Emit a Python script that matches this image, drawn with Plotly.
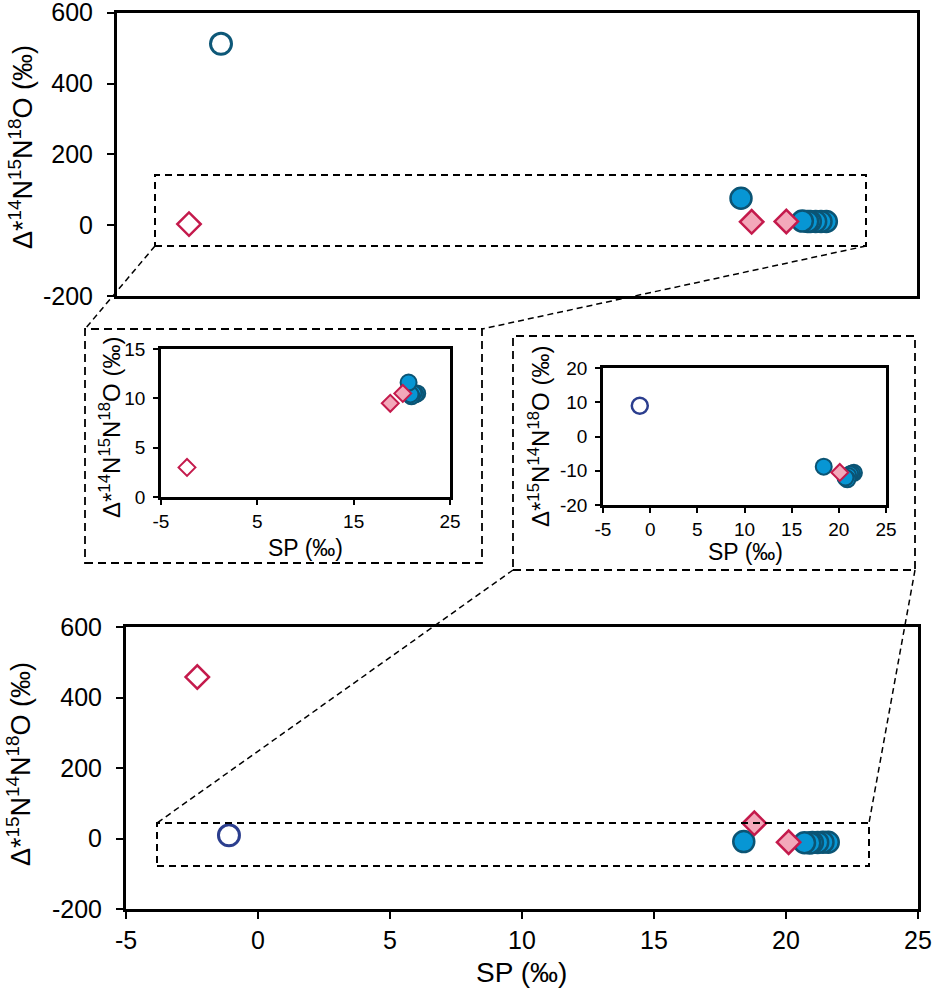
import plotly.graph_objects as go

# ---------------- data ----------------
# open circle sample
sp_open_circle = [-1.1]
d14_open_circle = [512]
d15_open_circle = [9.0]

# open diamond sample
sp_open_diamond = [-2.3]
d14_open_diamond = [3.0]
d15_open_diamond = [458]

# filled circles (ordered right -> left so the left ones sit on top)
sp_fill_circle = [21.6, 21.4, 21.2, 21.0, 20.9, 20.7, 18.4]
d14_fill_circle = [10.5, 10.4, 10.5, 10.2, 10.4, 11.6, 76]
d15_fill_circle = [-10.6, -10.8, -11.0, -11.5, -12.5, -12.0, -8.8]

# filled diamonds
sp_fill_diamond = [18.8, 20.1]
d14_fill_diamond = [9.5, 10.5]
d15_fill_diamond = [43, -10.5]

# tick labels
big_y_vals = [-200, 0, 200, 400, 600]
big_y_text = ["-200", "0", "200", "400", "600"]
big_x_vals = [-5, 0, 5, 10, 15, 20, 25]
big_x_text = ["-5", "0", "5", "10", "15", "20", "25"]
ins1_x_vals = [-5, 5, 15, 25]
ins1_x_text = ["-5", "5", "15", "25"]
ins1_y_vals = [0, 5, 10, 15]
ins1_y_text = ["0", "5", "10", "15"]
ins2_x_vals = [-5, 0, 5, 10, 15, 20, 25]
ins2_x_text = ["-5", "0", "5", "10", "15", "20", "25"]
ins2_y_vals = [-20, -10, 0, 10, 20]
ins2_y_text = ["-20", "-10", "0", "10", "20"]

title_14 = "Δ*<sup>14</sup>N<sup>15</sup>N<sup>18</sup>O (‰)"
title_15 = "Δ*<sup>15</sup>N<sup>14</sup>N<sup>18</sup>O (‰)"
title_sp = "SP (‰)"

# ---------------- styling ----------------
W, H = 934, 989
FONT = "Liberation Sans, Arial, Helvetica, sans-serif"
BLUE_FILL = "#0796d4"
BLUE_LINE = "#0b5474"
TEAL_OPEN = "#0e5878"
NAVY_OPEN = "#2b3e8e"
CRIMSON = "#c41a4c"
PINK = "#f3a8ba"


def px(x):
    return x / W


def py(y):
    return 1 - y / H


def dom_x(a, b):
    return [px(a), px(b)]


def dom_y(top, bottom):
    return [py(bottom), py(top)]


fig = go.Figure()


def add_panel(xa, ya, ydata, big, open_circle_color):
    d_oc, d_od, d_fc, d_fd = ydata
    cs = 21 if big else 16
    ds = 18 if big else 13
    lw = 2.5 if big else 2
    fig.add_trace(go.Scatter(
        x=sp_open_circle, y=d_oc, mode="markers", xaxis=xa, yaxis=ya,
        marker=dict(symbol="circle", size=cs, color="rgba(0,0,0,0)",
                    line=dict(color=open_circle_color, width=3 if big else 2.5)),
        showlegend=False, hoverinfo="skip"))
    fig.add_trace(go.Scatter(
        x=sp_open_diamond, y=d_od, mode="markers", xaxis=xa, yaxis=ya,
        marker=dict(symbol="diamond", size=ds, color="rgba(0,0,0,0)",
                    line=dict(color=CRIMSON, width=lw)),
        showlegend=False, hoverinfo="skip"))
    fig.add_trace(go.Scatter(
        x=sp_fill_circle, y=d_fc, mode="markers", xaxis=xa, yaxis=ya,
        marker=dict(symbol="circle", size=cs, color=BLUE_FILL,
                    line=dict(color=BLUE_LINE, width=lw)),
        showlegend=False, hoverinfo="skip"))
    fig.add_trace(go.Scatter(
        x=sp_fill_diamond, y=d_fd, mode="markers", xaxis=xa, yaxis=ya,
        marker=dict(symbol="diamond", size=ds, color=PINK,
                    line=dict(color=CRIMSON, width=lw)),
        showlegend=False, hoverinfo="skip"))


add_panel("x", "y", (d14_open_circle, d14_open_diamond, d14_fill_circle, d14_fill_diamond), True, TEAL_OPEN)
add_panel("x2", "y2", (d14_open_circle, d14_open_diamond, d14_fill_circle, d14_fill_diamond), False, TEAL_OPEN)
add_panel("x3", "y3", (d15_open_circle, d15_open_diamond, d15_fill_circle, d15_fill_diamond), False, NAVY_OPEN)
add_panel("x4", "y4", (d15_open_circle, d15_open_diamond, d15_fill_circle, d15_fill_diamond), True, NAVY_OPEN)


def ax(domain, rng, anchor, vals=None, text=None, big=True, show=True, standoff=0):
    d = dict(domain=domain, range=rng, anchor=anchor, showgrid=False, zeroline=False,
             showline=True, linecolor="black", linewidth=3 if big else 2.5, mirror=True,
             automargin=False, fixedrange=True)
    if show:
        d.update(tickmode="array", tickvals=vals, ticktext=text, ticks="outside",
                 ticklen=7 if big else 5, tickwidth=2, tickcolor="black",
                 ticklabeloverflow="allow", ticklabelstandoff=standoff,
                 tickfont=dict(family=FONT, size=25 if big else 19, color="black"))
    else:
        d.update(showticklabels=False, ticks="")
    return d


fig.update_layout(
    width=W, height=H, margin=dict(l=0, r=0, t=0, b=0),
    paper_bgcolor="white", plot_bgcolor="white",
    font=dict(family=FONT, color="black"),
    xaxis=ax(dom_x(117, 917), [-5, 25], "y", show=False),
    yaxis=ax(dom_y(12.7, 296), [-200, 600], "x", big_y_vals, big_y_text, standoff=9),
    xaxis2=ax(dom_x(161, 450), [-5, 25], "y2", ins1_x_vals, ins1_x_text, big=False),
    yaxis2=ax(dom_y(349, 497), [0, 15], "x2", ins1_y_vals, ins1_y_text, big=False, standoff=4),
    xaxis3=ax(dom_x(603, 886), [-5, 25], "y3", ins2_x_vals, ins2_x_text, big=False),
    yaxis3=ax(dom_y(368, 505), [-20, 20], "x3", ins2_y_vals, ins2_y_text, big=False, standoff=4),
    xaxis4=ax(dom_x(126, 918), [-5, 25], "y4", big_x_vals, big_x_text),
    yaxis4=ax(dom_y(627, 909), [-200, 600], "x4", big_y_vals, big_y_text, standoff=9),
)

# ---------------- decorative dashed boxes and connectors ----------------
shapes = []


def rect(x0, y0, x1, y1, dash="7px,5px", w=2):
    shapes.append(dict(type="rect", xref="paper", yref="paper",
                       x0=px(x0), x1=px(x1), y0=py(y1), y1=py(y0),
                       line=dict(color="black", width=w, dash=dash), fillcolor="rgba(0,0,0,0)",
                       layer="above"))


def line(x0, y0, x1, y1, dash="6px,4px", w=1.5):
    shapes.append(dict(type="line", xref="paper", yref="paper",
                       x0=px(x0), x1=px(x1), y0=py(y0), y1=py(y1),
                       line=dict(color="black", width=w, dash=dash), layer="above"))


rect(155, 175, 866, 246)          # zoom box in top panel
rect(157, 823, 869, 866)          # zoom box in bottom panel
rect(85, 329, 482, 563, dash="8px,5px", w=1.8)   # left inset frame
rect(513, 336, 915, 570, dash="8px,5px", w=1.8)  # right inset frame
line(155, 246, 85, 329)
line(866, 246, 482, 329)
line(513, 570, 157, 823)
line(915, 570, 869, 823)
fig.update_layout(shapes=shapes)

# ---------------- axis titles ----------------
ann = []


def title(text, x, y, size, angle=0):
    ann.append(dict(text=text, x=px(x), y=py(y), xref="paper", yref="paper",
                    showarrow=False, textangle=angle, xanchor="center", yanchor="middle",
                    font=dict(family=FONT, size=size, color="black")))


title(title_14, 21, 147, 27, -90)
title(title_15, 19, 764, 27, -90)
title(title_14, 110, 428, 24, -90)
title(title_15, 539, 437, 24, -90)
title(title_sp, 305, 548, 23)
title(title_sp, 745, 552, 23)
title(title_sp, 521, 972, 28)
fig.update_layout(annotations=ann)

fig.write_html(
    "out.html",
    config={"displayModeBar": False},
    post_script="document.body.style.margin='0';document.body.style.overflow='hidden';",
)
